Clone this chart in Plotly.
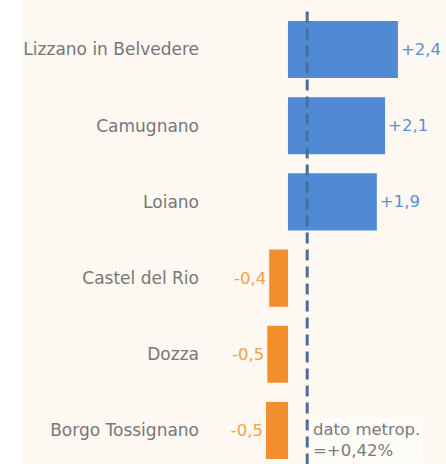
import plotly.graph_objects as go

comuni = ["Lizzano in Belvedere", "Camugnano", "Loiano", "Castel del Rio", "Dozza", "Borgo Tossignano"]
valori = [2.40, 2.12, 1.94, -0.41, -0.45, -0.48]
etichette = ["+2,4", "+2,1", "+1,9", "-0,4", "-0,5", "-0,5"]
dato_metrop = 0.42

BLUE = "#5089d4"
ORANGE = "#f28e2b"
BLUE_TXT = "#5b8fd6"
ORANGE_TXT = "#f5a04a"
BG = "#fdf8f1"
FONT = "DejaVu Sans"
FS = 17

bar_colors = [BLUE if v >= 0 else ORANGE for v in valori]
txt_colors = [BLUE_TXT if v >= 0 else ORANGE_TXT for v in valori]
ypos = list(range(len(comuni)))

fig = go.Figure()
fig.add_trace(go.Bar(
    x=valori, y=ypos, orientation="h", width=0.75,
    marker=dict(color=bar_colors, line=dict(width=0)),
    text=etichette, textposition="outside", cliponaxis=False,
    textfont=dict(color=txt_colors, size=FS - 0.5, family=FONT),
    hoverinfo="skip",
))

fig.add_shape(type="line", xref="x", yref="y",
              x0=dato_metrop, x1=dato_metrop, y0=-0.5, y1=5.6,
              line=dict(color="#4b6f9c", width=3, dash="11px,6px"), layer="above")

fig.add_annotation(x=dato_metrop, y=5.12, xref="x", yref="y",
                   text="dato metrop.<br>=+0,42%", showarrow=False,
                   xanchor="left", yanchor="middle", align="left", xshift=3,
                   font=dict(color="#7a7a7a", size=FS - 0.5, family=FONT),
                   bgcolor="#fefcf9", borderpad=2)

# white strip at far left
fig.add_shape(type="rect", xref="paper", yref="paper",
              x0=-200/246, x1=-179/246, y0=0, y1=1,
              fillcolor="white", line=dict(width=0), layer="below")

fig.update_layout(
    width=446, height=464,
    margin=dict(l=200, r=0, t=0, b=0),
    paper_bgcolor=BG, plot_bgcolor=BG,
    showlegend=False,
    font=dict(family=FONT, size=FS, color="#777777"),
    xaxis=dict(range=[-1.92, 3.45], showgrid=False, zeroline=False,
               showticklabels=False, ticks=""),
    yaxis=dict(range=[5.44, -0.65], tickmode="array", tickvals=ypos,
               ticktext=comuni, showgrid=False, zeroline=False, ticks="",
               tickfont=dict(color="#777777", size=FS, family=FONT)),
)

fig.write_html("out.html", config={"displayModeBar": False},
               post_script="document.body.style.margin='0';document.body.style.overflow='hidden';")
